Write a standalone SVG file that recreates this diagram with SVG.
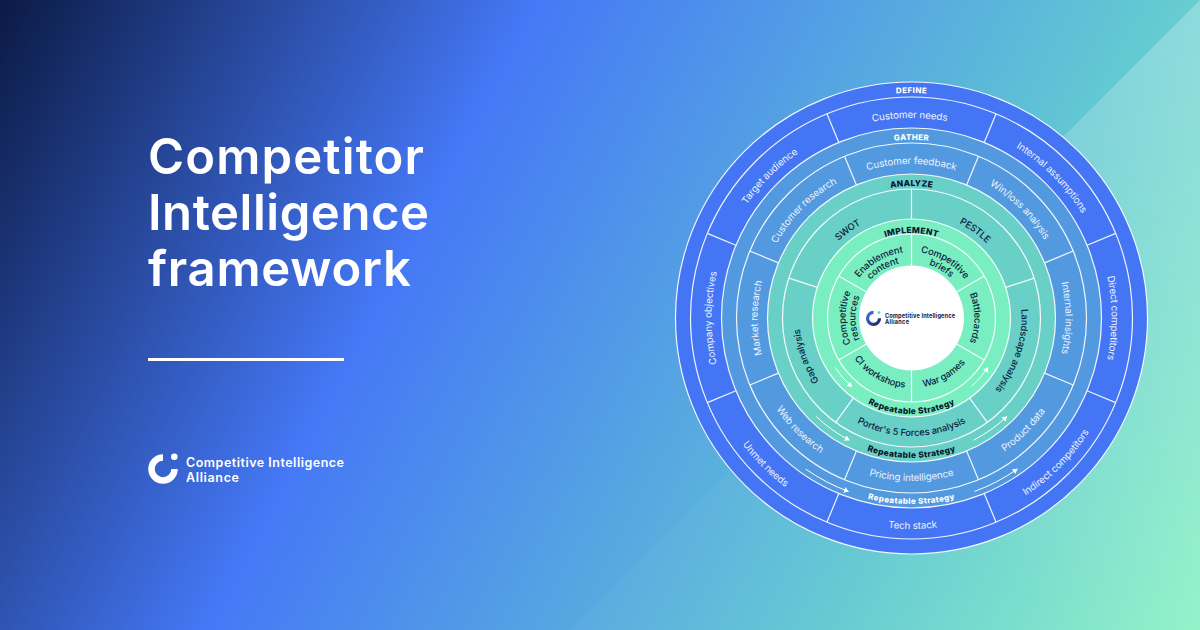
<svg xmlns="http://www.w3.org/2000/svg" width="1200" height="630" viewBox="0 0 1200 630">
<style>
text{font-family:Inter,"Noto Sans","Liberation Sans",sans-serif}
.ring{stroke:#fff;stroke-width:1.2;stroke-opacity:.92}
.div{stroke:#fff;stroke-width:1.2;stroke-opacity:.92;fill:none}
.lt{fill:#edf3ff;font-size:9.8px;letter-spacing:-.1px;font-weight:400;text-anchor:middle}
.dk{fill:#0a2240;font-size:9.4px;letter-spacing:-.1px;font-weight:500;text-anchor:middle}
.hw{fill:#fff;font-size:8px;letter-spacing:.4px;font-weight:800;text-anchor:middle}
.hd{fill:#08142f;font-size:8.4px;letter-spacing:.32px;font-weight:800;text-anchor:middle}
.arr{stroke:#fff;stroke-width:1;fill:none;marker-end:url(#ah)}
</style>
<defs>
<linearGradient id="bg" gradientUnits="userSpaceOnUse" x1="0" y1="0" x2="1200" y2="630">
<stop offset="0" stop-color="#0b1a45"/><stop offset=".35" stop-color="#4578f6"/><stop offset=".75" stop-color="#62c8d2"/><stop offset="1" stop-color="#8ef2c6"/>
</linearGradient>
<linearGradient id="ov" gradientUnits="userSpaceOnUse" x1="1180" y1="40" x2="850" y2="450">
<stop offset="0" stop-color="#fff" stop-opacity=".24"/><stop offset="1" stop-color="#fff" stop-opacity=".025"/>
</linearGradient>
<linearGradient id="lg" gradientUnits="userSpaceOnUse" x1="866" y1="312" x2="880" y2="326">
<stop offset="0" stop-color="#4578f6"/><stop offset="1" stop-color="#10205a"/>
</linearGradient>
<marker id="ah" markerUnits="userSpaceOnUse" markerWidth="6" markerHeight="6" refX="4.5" refY="3" orient="auto"><path d="M0 0L5 3L0 6Z" fill="#fff"/></marker>
<path id="c225" d="M-225 0A225 225 0 0 1 225 0"/>
<path id="c200" d="M-200 0A200 200 0 0 1 200 0"/>
<path id="c178" d="M-178 0A178 178 0 0 1 178 0"/>
<path id="c154" d="M-154 0A154 154 0 0 1 154 0"/>
<path id="c132" d="M-132 0A132 132 0 0 1 132 0"/>
<path id="c112" d="M-112 0A112 112 0 0 1 112 0"/>
<path id="c110" d="M-110 0A110 110 0 0 1 110 0"/>
<path id="c106" d="M-106 0A106 106 0 0 1 106 0"/>
<path id="c85" d="M-85 0A85 85 0 0 1 85 0"/>
<path id="c66" d="M-66 0A66 66 0 0 1 66 0"/>
<path id="c63" d="M-63 0A63 63 0 0 1 63 0"/>
<path id="c56" d="M-56 0A56 56 0 0 1 56 0"/>
<path id="b211" d="M-211 0A211 211 0 0 0 211 0"/>
<path id="b186" d="M-186 0A186 186 0 0 0 186 0"/>
<path id="b163" d="M-163 0A163 163 0 0 0 163 0"/>
<path id="b140" d="M-140 0A140 140 0 0 0 140 0"/>
<path id="b118" d="M-118 0A118 118 0 0 0 118 0"/>
<path id="b96" d="M-96 0A96 96 0 0 0 96 0"/>
<path id="b70" d="M-70 0A70 70 0 0 0 70 0"/>
</defs>
<rect width="1200" height="630" fill="url(#bg)"/>
<polygon points="1200,0 1200,630 570,630" fill="url(#ov)"/>

<g id="title" fill="#fff" font-size="49" font-weight="600">
<text x="148" y="173.5" textLength="276" lengthAdjust="spacing">Competitor</text>
<text x="148" y="230" textLength="281" lengthAdjust="spacing">Intelligence</text>
<text x="148" y="286" textLength="263" lengthAdjust="spacing">framework</text>
</g>
<rect id="rule" x="148" y="358" width="196" height="3" fill="#fff"/>
<g id="brand">
<path d="M163 457.5A11.5 11.5 0 1 0 174.5 469" fill="none" stroke="#fff" stroke-width="6.5"/>
<circle cx="174.3" cy="456.7" r="3.3" fill="#fff"/>
<text x="186" y="467" font-size="12.5" font-weight="600" fill="#fff" textLength="158" lengthAdjust="spacing">Competitive Intelligence</text>
<text x="186" y="482" font-size="12.5" font-weight="600" fill="#fff" textLength="53" lengthAdjust="spacing">Alliance</text>
</g>

<g transform="translate(911.5 318)">
<g id="rings">
<circle class="ring" r="236" fill="#4475f4"/>
<circle class="ring" r="221" fill="#4475f4"/>
<circle class="ring" r="190" fill="#5299e0"/>
<circle class="ring" r="175" fill="#5299e0"/>
<circle class="ring" r="144" fill="#69d0c8"/>
<circle class="ring" r="129" fill="#69d0c8"/>
<circle class="ring" r="99" fill="#79eec1"/>
<circle class="ring" r="84" fill="#79eec1"/>
<circle r="52.5" fill="#fff"/>
</g>
<g id="connectors">
<g id="dividers-define">
<line class="div" y1="-190" y2="-221" transform="rotate(22.5)"/><line class="div" y1="-190" y2="-221" transform="rotate(67.5)"/><line class="div" y1="-190" y2="-221" transform="rotate(112.5)"/><line class="div" y1="-190" y2="-221" transform="rotate(157.5)"/><line class="div" y1="-190" y2="-221" transform="rotate(202.5)"/><line class="div" y1="-190" y2="-221" transform="rotate(247.5)"/><line class="div" y1="-190" y2="-221" transform="rotate(292.5)"/><line class="div" y1="-190" y2="-221" transform="rotate(337.5)"/>
</g>
<g id="dividers-gather">
<line class="div" y1="-144" y2="-175" transform="rotate(22.5)"/><line class="div" y1="-144" y2="-175" transform="rotate(67.5)"/><line class="div" y1="-144" y2="-175" transform="rotate(112.5)"/><line class="div" y1="-144" y2="-175" transform="rotate(157.5)"/><line class="div" y1="-144" y2="-175" transform="rotate(202.5)"/><line class="div" y1="-144" y2="-175" transform="rotate(247.5)"/><line class="div" y1="-144" y2="-175" transform="rotate(292.5)"/><line class="div" y1="-144" y2="-175" transform="rotate(337.5)"/>
</g>
<g id="dividers-analyze">
<line class="div" y1="-99" y2="-129"/><line class="div" y1="-99" y2="-129" transform="rotate(72)"/><line class="div" y1="-99" y2="-129" transform="rotate(144)"/><line class="div" y1="-99" y2="-129" transform="rotate(216)"/><line class="div" y1="-99" y2="-129" transform="rotate(288)"/>
</g>
<g id="dividers-implement">
<line class="div" y1="-52" y2="-84"/><line class="div" y1="-52" y2="-84" transform="rotate(60)"/><line class="div" y1="-52" y2="-84" transform="rotate(120)"/><line class="div" y1="-52" y2="-84" transform="rotate(180)"/><line class="div" y1="-52" y2="-84" transform="rotate(240)"/><line class="div" y1="-52" y2="-84" transform="rotate(300)"/>
</g>
<g id="arrows">
<path class="arr" d="M-105.8 151.1A184.5 184.5 0 0 0 -63.1 173.4"/>
<path class="arr" d="M63.1 173.4A184.5 184.5 0 0 0 105.8 151.1"/>
<path class="arr" d="M-95.2 98.5A137 137 0 0 0 -62.2 122.1"/>
<path class="arr" d="M62.2 122.1A137 137 0 0 0 95.2 98.5"/>
<path class="arr" d="M-76.3 49.6A91 91 0 0 0 -59.7 68.7"/>
<path class="arr" d="M59.7 68.7A91 91 0 0 0 76.3 49.6"/>
</g>
</g>
<g id="define">
<text class="hw"><textPath href="#c225" startOffset="50%">DEFINE</textPath></text>
<text class="lt" transform="rotate(-.5)"><textPath href="#c200" startOffset="50%">Customer needs</textPath></text>
<text class="lt" transform="rotate(45)"><textPath href="#c200" startOffset="50%">Internal assumptions</textPath></text>
<text class="lt" transform="rotate(90)"><textPath href="#c200" startOffset="50%">Direct competitors</textPath></text>
<text class="lt" transform="rotate(-45)"><textPath href="#b211" startOffset="50%">Indirect competitors</textPath></text>
<text class="lt" transform="rotate(-.3)"><textPath href="#b211" startOffset="50%">Tech stack</textPath></text>
<text class="lt" transform="rotate(45)"><textPath href="#b211" startOffset="50%">Unmet needs</textPath></text>
<text class="lt" transform="rotate(-90)"><textPath href="#c200" startOffset="50%">Company objectives</textPath></text>
<text class="lt" transform="rotate(-45)"><textPath href="#c200" startOffset="50%">Target audience</textPath></text>
</g>
<g id="gather">
<text class="hw"><textPath href="#c178" startOffset="50%">GATHER</textPath></text>
<text class="lt"><textPath href="#c154" startOffset="50%">Customer feedback</textPath></text>
<text class="lt" transform="rotate(45)"><textPath href="#c154" startOffset="50%">Win/loss analysis</textPath></text>
<text class="lt" transform="rotate(90)"><textPath href="#c154" startOffset="50%">Internal insights</textPath></text>
<text class="lt" transform="rotate(-45)"><textPath href="#b163" startOffset="50%">Product data</textPath></text>
<text class="lt"><textPath href="#b163" startOffset="50%">Pricing intelligence</textPath></text>
<text class="lt" transform="rotate(45)"><textPath href="#b163" startOffset="50%">Web research</textPath></text>
<text class="lt" transform="rotate(-90)"><textPath href="#c154" startOffset="50%">Market research</textPath></text>
<text class="lt" transform="rotate(-45)"><textPath href="#c154" startOffset="50%">Customer research</textPath></text>
<text class="hw"><textPath href="#b186" startOffset="50%">Repeatable Strategy</textPath></text>
</g>
<g id="analyze">
<text class="hd"><textPath href="#c132" startOffset="50%">ANALYZE</textPath></text>
<text class="dk" transform="rotate(36)"><textPath href="#c106" startOffset="50%">PESTLE</textPath></text>
<text class="dk" transform="rotate(108)"><textPath href="#c110" startOffset="50%">Landscape analysis</textPath></text>
<text class="dk"><textPath href="#b118" startOffset="50%">Porter's 5 Forces analysis</textPath></text>
<text class="dk" transform="rotate(-110)"><textPath href="#c112" startOffset="50%">Gap analysis</textPath></text>
<text class="dk" transform="rotate(-36)"><textPath href="#c106" startOffset="50%">SWOT</textPath></text>
<text class="hd"><textPath href="#b140" startOffset="50%">Repeatable Strategy</textPath></text>
</g>
<g id="implement">
<text class="hd"><textPath href="#c85" startOffset="50%">IMPLEMENT</textPath></text>
<text class="dk" transform="rotate(31)"><textPath href="#c66" startOffset="50%">Competitive</textPath></text>
<text class="dk" transform="rotate(31)"><textPath href="#c56" startOffset="50%">briefs</textPath></text>
<text class="dk" transform="rotate(90)"><textPath href="#c63" startOffset="50%">Battlecards</textPath></text>
<text class="dk" transform="rotate(-30)"><textPath href="#b70" startOffset="50%">War games</textPath></text>
<text class="dk" transform="rotate(30)"><textPath href="#b70" startOffset="50%">CI workshops</textPath></text>
<text class="dk" transform="rotate(-90)"><textPath href="#c66" startOffset="50%">Competitive</textPath></text>
<text class="dk" transform="rotate(-90)"><textPath href="#c56" startOffset="50%">resources</textPath></text>
<text class="dk" transform="rotate(-30)"><textPath href="#c66" startOffset="50%">Enablement</textPath></text>
<text class="dk" transform="rotate(-30)"><textPath href="#c56" startOffset="50%">content</textPath></text>
<text class="hd"><textPath href="#b96" startOffset="50%">Repeatable Strategy</textPath></text>
</g>
</g>
<g id="hub">
<path d="M873.5 312.3A6 6 0 1 0 879.5 318.3" fill="none" stroke="url(#lg)" stroke-width="3.2"/>
<circle cx="879" cy="312.6" r="1.4" fill="#5fd0d0"/>
<text x="885" y="317.6" font-size="5.6" font-weight="700" fill="#10183f" textLength="70" lengthAdjust="spacing">Competitive Intelligence</text>
<text x="885" y="324.3" font-size="5.6" font-weight="700" fill="#10183f" textLength="24" lengthAdjust="spacing">Alliance</text>
</g>
</svg>
